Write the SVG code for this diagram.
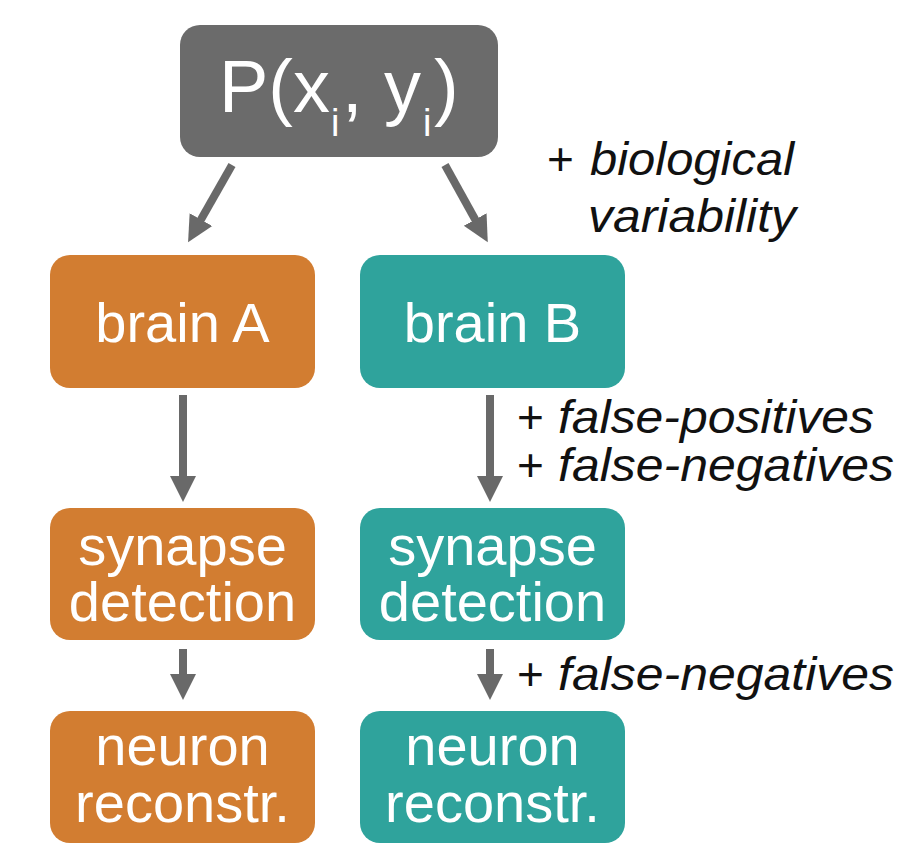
<svg xmlns="http://www.w3.org/2000/svg" width="908" height="855" viewBox="0 0 908 855">
<defs>
<style>
.grey{fill:#6b6b6b}
.orange{fill:#d27d31}
.teal{fill:#2fa39c}
.box-text{font-family:"Liberation Sans",Arial,sans-serif;font-size:56px;fill:#ffffff;text-anchor:middle}
.title{font-family:"Liberation Sans",Arial,sans-serif;fill:#ffffff}
.label{font-family:"Liberation Sans",Arial,sans-serif;font-size:46px;fill:#111111}
.it{font-style:italic}
.conn{stroke:#696969;stroke-width:8;fill:none}
</style>
<marker id="head" markerUnits="userSpaceOnUse" markerWidth="30" markerHeight="30" viewBox="0 0 30 30" refX="12" refY="15" orient="auto">
<path d="M0,2 L26,15 L0,28 Z" fill="#696969"/>
</marker>
</defs>
<rect width="908" height="855" fill="#ffffff"/>

<g id="connectors">
<line class="conn" x1="232" y1="165" x2="195" y2="230" marker-end="url(#head)"/>
<line class="conn" x1="445" y1="165" x2="481" y2="230" marker-end="url(#head)"/>
<line class="conn" x1="183" y1="395" x2="183" y2="488" marker-end="url(#head)"/>
<line class="conn" x1="490" y1="395" x2="490" y2="488" marker-end="url(#head)"/>
<line class="conn" x1="183" y1="649" x2="183" y2="686" marker-end="url(#head)"/>
<line class="conn" x1="490" y1="649" x2="490" y2="686" marker-end="url(#head)"/>
</g>

<g id="node-p">
<rect class="grey" x="180" y="25" width="318" height="132" rx="20"/>
<text class="title" y="112" font-size="74"><tspan x="219">P(x</tspan><tspan x="331" y="136" font-size="38">i</tspan><tspan x="342" y="112">,</tspan><tspan x="384">y</tspan><tspan x="423" y="136" font-size="38">i</tspan><tspan x="434" y="112">)</tspan></text>
</g>

<g id="node-brainA">
<rect class="orange" x="50" y="255" width="265" height="133" rx="20"/>
<text class="box-text" x="182.5" y="342">brain A</text>
</g>
<g id="node-brainB">
<rect class="teal" x="360" y="255" width="265" height="133" rx="20"/>
<text class="box-text" x="492.5" y="342">brain B</text>
</g>

<g id="node-synA">
<rect class="orange" x="50" y="508" width="265" height="132" rx="20"/>
<text class="box-text" x="182.5" y="565">synapse</text>
<text class="box-text" x="182.5" y="621">detection</text>
</g>
<g id="node-synB">
<rect class="teal" x="360" y="508" width="265" height="132" rx="20"/>
<text class="box-text" x="492.5" y="565">synapse</text>
<text class="box-text" x="492.5" y="621">detection</text>
</g>

<g id="node-neuA">
<rect class="orange" x="50" y="711" width="265" height="132" rx="20"/>
<text class="box-text" x="182.5" y="765">neuron</text>
<text class="box-text" x="182.5" y="822">reconstr.</text>
</g>
<g id="node-neuB">
<rect class="teal" x="360" y="711" width="265" height="132" rx="20"/>
<text class="box-text" x="492.5" y="765">neuron</text>
<text class="box-text" x="492.5" y="822">reconstr.</text>
</g>

<g id="labels">
<text class="label" x="547" y="175">+</text>
<text class="label it" x="590" y="175" textLength="204" lengthAdjust="spacingAndGlyphs">biological</text>
<text class="label it" x="588" y="232" textLength="208" lengthAdjust="spacingAndGlyphs">variability</text>
<text class="label" x="517" y="433">+</text>
<text class="label it" x="558" y="433" textLength="316" lengthAdjust="spacingAndGlyphs">false-positives</text>
<text class="label" x="517" y="481">+</text>
<text class="label it" x="558" y="481" textLength="336" lengthAdjust="spacingAndGlyphs">false-negatives</text>
<text class="label" x="517" y="690">+</text>
<text class="label it" x="558" y="690" textLength="336" lengthAdjust="spacingAndGlyphs">false-negatives</text>
</g>
</svg>
